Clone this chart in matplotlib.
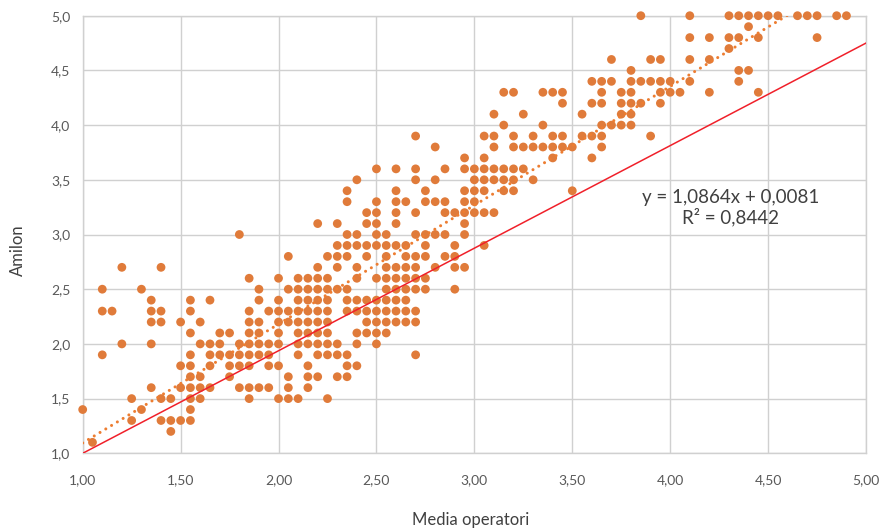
import numpy as np
import matplotlib
matplotlib.use("Agg")
import matplotlib.pyplot as plt

# Media operatori (x) values for each Amilon (y) level
y11 = [1.05]
y12 = [1.45]
y13 = [1.25, 1.40, 1.45, 1.50, 1.55]
y14 = [1.00, 1.30, 1.55]
y15 = [1.25, 1.40, 1.45, 1.55, 1.60, 1.85, 2.00, 2.05, 2.10, 2.25]
y16 = [1.35, 1.50, 1.55, 1.60, 1.65, 1.80, 1.85, 1.90, 1.95, 2.05, 2.15]
y17 = [1.55, 1.60, 1.75, 2.05, 2.15, 2.20, 2.30, 2.35]
y18 = [1.50, 1.55, 1.65, 1.75, 1.80, 1.85, 1.95, 2.00, 2.15, 2.35, 2.40]
y19 = [1.10, 1.55, 1.65, 1.70, 1.75, 1.80, 1.85, 1.90, 1.95, 2.10, 2.20,
       2.25, 2.30, 2.35, 2.70]
y20 = [1.20, 1.35, 1.60, 1.65, 1.70, 1.80, 1.85, 1.90, 1.95, 2.00, 2.10,
       2.15, 2.20, 2.25, 2.30, 2.40, 2.50]
y21 = [1.55, 1.70, 1.75, 1.85, 1.90, 2.00, 2.10, 2.15, 2.20, 2.25, 2.40,
       2.45, 2.50, 2.55]
y22 = [1.35, 1.40, 1.50, 1.60, 1.85, 1.90, 2.00, 2.05, 2.10, 2.15, 2.20,
       2.25, 2.45, 2.50, 2.55, 2.60, 2.65, 2.70]
y23 = [1.10, 1.15, 1.35, 1.40, 1.55, 1.85, 1.95, 2.00, 2.05, 2.10, 2.15,
       2.20, 2.25, 2.35, 2.40, 2.45, 2.50, 2.55, 2.60, 2.65, 2.70]
y24 = [1.35, 1.55, 1.65, 1.90, 2.00, 2.10, 2.15, 2.20, 2.25, 2.35, 2.40,
       2.45, 2.50, 2.55, 2.60, 2.65]
y25 = [1.10, 1.30, 1.90, 2.05, 2.10, 2.15, 2.20, 2.25, 2.30, 2.35, 2.55,
       2.60, 2.65, 2.70, 2.75, 2.90]
y26 = [1.85, 2.00, 2.10, 2.15, 2.20, 2.25, 2.40, 2.50, 2.55, 2.60, 2.65,
       2.70, 2.75]
y27 = [1.20, 1.40, 2.20, 2.30, 2.40, 2.55, 2.60, 2.65, 2.70, 2.80, 2.90, 2.95]
y28 = [2.05, 2.25, 2.30, 2.35, 2.45, 2.55, 2.65, 2.70, 2.75, 2.85, 2.90]
y29 = [2.30, 2.35, 2.40, 2.45, 2.50, 2.55, 2.60, 2.65, 2.75, 2.90, 3.05]
y30 = [1.80, 2.35, 2.40, 2.50, 2.55, 2.70, 2.75, 2.80, 2.85, 2.95]
y31 = [2.20, 2.30, 2.45, 2.50, 2.60, 2.95]
y32 = [2.45, 2.50, 2.60, 2.70, 2.85, 2.90, 2.95, 3.00, 3.05, 3.10]
y33 = [2.35, 2.50, 2.60, 2.65, 2.75, 2.80, 2.85, 2.95, 3.00]
y34 = [2.35, 2.60, 2.75, 2.95, 3.00, 3.05, 3.15, 3.20, 3.50]
y35 = [2.40, 2.70, 2.80, 3.00, 3.05, 3.10, 3.15, 3.20, 3.30]
y36 = [2.50, 2.60, 2.70, 2.85, 2.95, 3.00, 3.05, 3.10, 3.15, 3.20, 3.25]
y37 = [2.95, 3.05, 3.40, 3.60]
y38 = [2.80, 3.10, 3.20, 3.25, 3.30, 3.35, 3.40, 3.45, 3.50, 3.65]
y39 = [2.70, 3.05, 3.10, 3.20, 3.30, 3.40, 3.45, 3.55, 3.60, 3.65, 3.90]
y40 = [3.15, 3.35, 3.65, 3.70, 3.75, 3.80]
y41 = [3.10, 3.25, 3.55, 3.75, 3.80]
y42 = [3.45, 3.60, 3.65, 3.75, 3.80, 3.85, 3.95]
y43 = [3.15, 3.20, 3.35, 3.40, 3.45, 3.65, 3.75, 3.80, 3.95, 4.00, 4.05,
       4.20, 4.45]
y44 = [3.60, 3.65, 3.70, 3.80, 3.85, 3.90, 3.95, 4.00, 4.10, 4.35]
y45 = [3.80, 4.35, 4.40]
y46 = [3.70, 3.90, 3.95, 4.10, 4.20]
y47 = [4.30]
y48 = [4.10, 4.20, 4.30, 4.35, 4.45, 4.75]
y49 = [4.40]
y50 = [3.85, 4.10, 4.30, 4.35, 4.40, 4.45, 4.50, 4.55, 4.65, 4.70, 4.75,
       4.85, 4.90]

levels = [(1.1, y11), (1.2, y12), (1.3, y13), (1.4, y14), (1.5, y15),
          (1.6, y16), (1.7, y17), (1.8, y18), (1.9, y19), (2.0, y20),
          (2.1, y21), (2.2, y22), (2.3, y23), (2.4, y24), (2.5, y25),
          (2.6, y26), (2.7, y27), (2.8, y28), (2.9, y29), (3.0, y30),
          (3.1, y31), (3.2, y32), (3.3, y33), (3.4, y34), (3.5, y35),
          (3.6, y36), (3.7, y37), (3.8, y38), (3.9, y39), (4.0, y40),
          (4.1, y41), (4.2, y42), (4.3, y43), (4.4, y44), (4.5, y45),
          (4.6, y46), (4.7, y47), (4.8, y48), (4.9, y49), (5.0, y50)]

# trendline shown on the chart, and the red reference line
slope, intercept = 1.0864, 0.0081
ref_x = [1.0, 5.0]
ref_y = [1.0, 4.75]

xticks = [1.0, 1.5, 2.0, 2.5, 3.0, 3.5, 4.0, 4.5, 5.0]
yticks = [1.0, 1.5, 2.0, 2.5, 3.0, 3.5, 4.0, 4.5, 5.0]

media = np.concatenate([np.array(xs) for _, xs in levels])
amilon = np.concatenate([np.full(len(xs), y) for y, xs in levels])

plt.rcParams['font.family'] = ['Lato', 'DejaVu Sans']

fig = plt.figure(figsize=(8.93, 5.29), dpi=100)
ax = fig.add_axes([0.0926, 0.1431, 0.8772, 0.8272])

ax.scatter(media, amilon, s=40, color='#E07B3A', edgecolors='none',
           zorder=3, clip_on=False)

xt = np.linspace(1.0, 5.0, 400)
yt = slope * xt + intercept
ax.plot(xt, yt, color='#ED7D31', lw=2.2, ls=(0, (0.01, 2.2)),
        dash_capstyle='round', zorder=4)
ax.plot(ref_x, ref_y, color='#F0202A', lw=1.1, zorder=5)

ax.set_xlim(1.0, 5.0)
ax.set_ylim(1.0, 5.0)
ax.set_xticks(xticks)
ax.set_yticks(yticks)
ax.set_xticklabels([f"{v:.2f}".replace('.', ',') for v in xticks])
ax.set_yticklabels([f"{v:.1f}".replace('.', ',') for v in yticks])
ax.tick_params(length=0, labelsize=10, colors='#595959')
ax.tick_params(axis='x', pad=15)
ax.tick_params(axis='y', pad=9)
ax.grid(True, color='#D0D0D0', lw=1.0)
ax.set_axisbelow(True)
for sp in ax.spines.values():
    sp.set_color('#D0D0D0')
    sp.set_linewidth(1.0)

ax.text(4.31, 3.245, "y = 1,0864x + 0,0081\nR² = 0,8442", ha='center',
        va='center', fontsize=13.5, color='#404040', linespacing=1.15)

fig.text(0.527, 0.017, "Media operatori", ha='center', va='center',
         fontsize=12, color='#404040')
fig.text(0.020, 0.527, "Amilon", ha='center', va='center', rotation=90,
         fontsize=12, color='#404040')

fig.savefig("out.png", dpi=100)
